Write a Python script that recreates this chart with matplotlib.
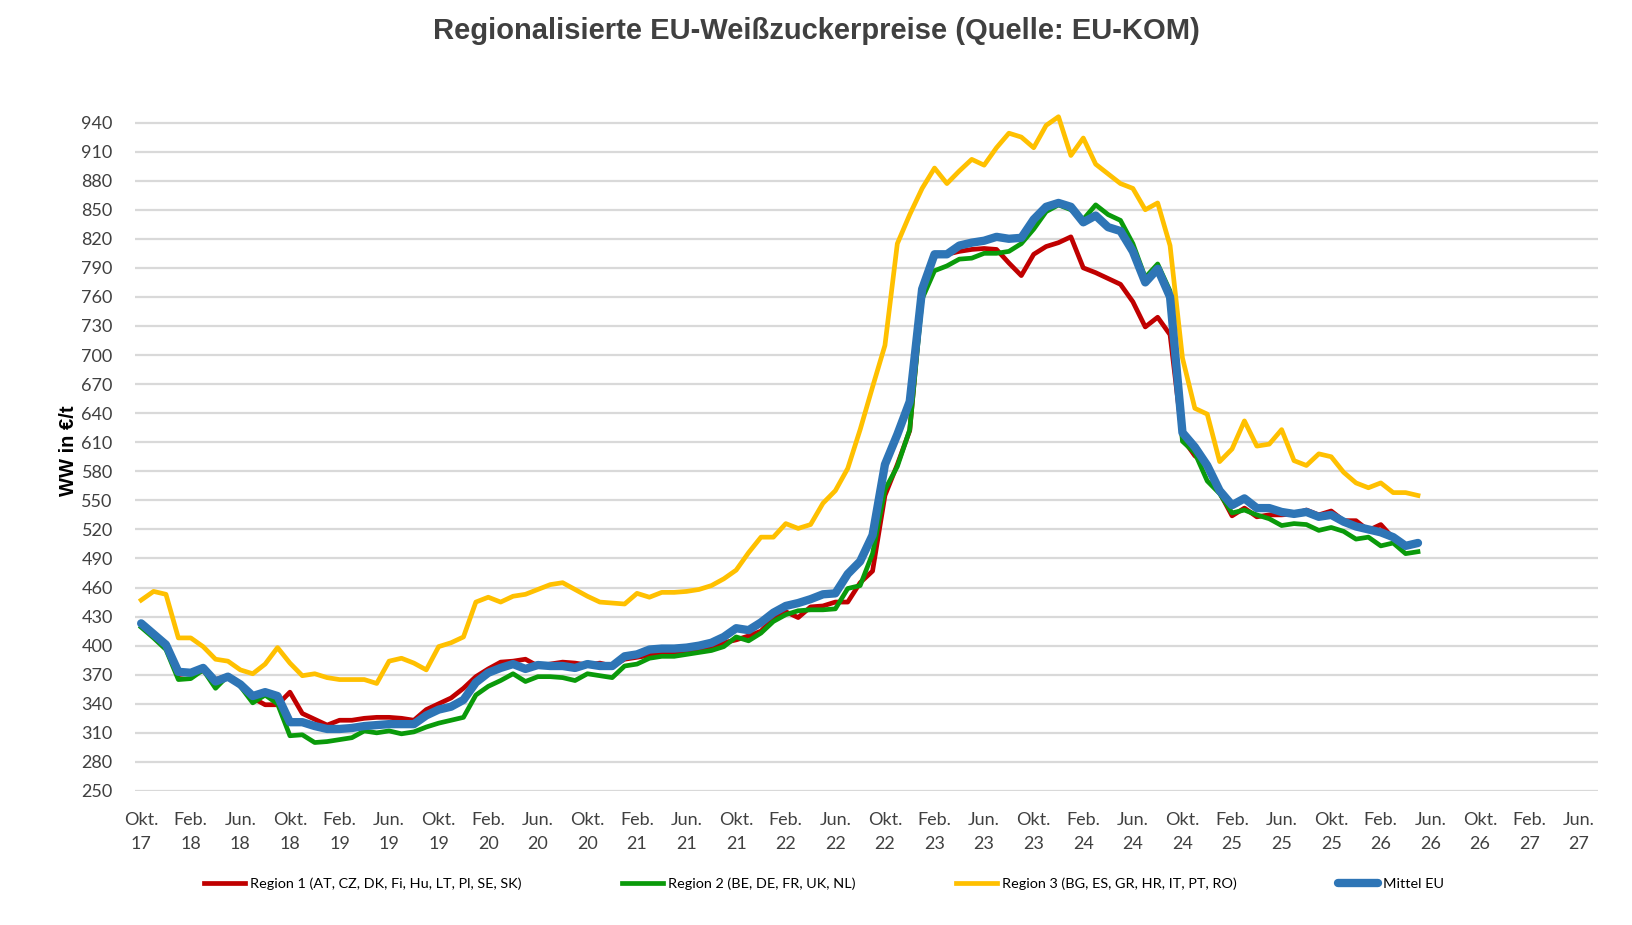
"""
Regionalised EU white sugar prices (source: EU-KOM), monthly Oct 2017 - May 2026.
"""

import numpy as np
import matplotlib
matplotlib.use('Agg')
import matplotlib.pyplot as plt

# monthly prices in EUR/t, starting Okt. 2017
region1 = [422, 411, 400, 370, 372, 374, 365, 369, 361, 346, 339, 339,
           352, 330, 324, 318, 323, 323, 325, 326, 326, 325, 323, 334,
           340, 346, 356, 368, 376, 383, 384, 386, 379, 381, 383, 382,
           380, 382, 379, 386, 388, 390, 392, 393, 395, 396, 397, 403,
           406, 410, 415, 428, 435, 429, 440, 441, 445, 445, 465, 477,
           555, 587, 622, 762, 802, 804, 807, 809, 810, 809, 795, 782,
           804, 812, 816, 822, 790, 785, 779, 773, 755, 729, 739, 721,
           614, 596, 587, 558, 534, 542, 533, 535, 535, 536, 540, 535,
           539, 529, 529, 519, 525, 511, 503, 505]

region2 = [419, 408, 396, 365, 366, 375, 356, 369, 358, 341, 349, 340,
           307, 308, 300, 301, 303, 305, 312, 310, 312, 309, 311, 316,
           320, 323, 326, 349, 358, 364, 371, 363, 368, 368, 367, 364,
           371, 369, 367, 379, 381, 387, 389, 389, 391, 393, 395, 399,
           409, 405, 413, 425, 432, 436, 437, 437, 438, 459, 462, 495,
           561, 585, 623, 758, 787, 792, 799, 800, 805, 805, 807, 815,
           830, 848, 855, 850, 840, 855, 845, 839, 815, 780, 794, 766,
           611, 599, 570, 557, 537, 540, 535, 531, 524, 526, 525, 519,
           522, 518, 510, 512, 503, 506, 495, 497]

region3 = [447, 456, 453, 408, 408, 399, 386, 384, 375, 371, 381, 398,
           382, 369, 371, 367, 365, 365, 365, 361, 384, 387, 382, 375,
           399, 403, 409, 445, 450, 445, 451, 453, 458, 463, 465, 458,
           451, 445, 444, 443, 454, 450, 455, 455, 456, 458, 462, 469,
           478, 496, 512, 512, 526, 521, 525, 547, 560, 583, 623, 667,
           710, 815, 845, 872, 893, 877, 890, 902, 896, 914, 929, 925,
           914, 937, 946, 906, 924, 897, 887, 877, 872, 850, 857, 813,
           697, 645, 639, 590, 603, 632, 606, 608, 623, 591, 586, 598,
           595, 579, 568, 563, 568, 558, 558, 555]

mittel_eu = [423, 412, 401, 373, 372, 377, 363, 368, 360, 348, 352, 348,
             321, 321, 317, 314, 314, 315, 317, 318, 319, 319, 319, 328,
             334, 337, 344, 362, 372, 377, 381, 376, 380, 379, 379, 377,
             381, 379, 379, 389, 391, 396, 397, 397, 398, 400, 403, 409,
             418, 416, 424, 434, 441, 444, 448, 453, 454, 474, 487, 514,
             587, 618, 652, 768, 804, 804, 813, 816, 818, 822, 820, 821,
             840, 853, 857, 853, 837, 844, 832, 828, 807, 775, 789, 760,
             620, 605, 586, 560, 545, 552, 542, 542, 538, 536, 538, 533,
             535, 528, 523, 520, 517, 512, 503, 506]

tick_labels = ['Okt.\n17', 'Feb.\n18', 'Jun.\n18', 'Okt.\n18', 'Feb.\n19', 'Jun.\n19',
               'Okt.\n19', 'Feb.\n20', 'Jun.\n20', 'Okt.\n20', 'Feb.\n21', 'Jun.\n21',
               'Okt.\n21', 'Feb.\n22', 'Jun.\n22', 'Okt.\n22', 'Feb.\n23', 'Jun.\n23',
               'Okt.\n23', 'Feb.\n24', 'Jun.\n24', 'Okt.\n24', 'Feb.\n25', 'Jun.\n25',
               'Okt.\n25', 'Feb.\n26', 'Jun.\n26', 'Okt.\n26', 'Feb.\n27', 'Jun.\n27']

labels = ['Region 1 (AT, CZ, DK, Fi, Hu, LT, Pl, SE, SK)',
          'Region 2 (BE, DE, FR, UK, NL)',
          'Region 3 (BG, ES, GR, HR, IT, PT, RO)',
          'Mittel EU']

text_color = '#404040'
body_font = ['Lato', 'DejaVu Sans']

fig = plt.figure(figsize=(16.32, 9.25), dpi=100)
ax = fig.add_axes([0.0827, 0.1449, 0.8963, 0.7331])

months = np.arange(len(mittel_eu))
ax.plot(months, region1, color='#C00000', linewidth=3.4, label=labels[0],
        solid_joinstyle='round')
ax.plot(months, region2, color='#0A9A0A', linewidth=3.4, label=labels[1],
        solid_joinstyle='round')
ax.plot(months, region3, color='#FFC000', linewidth=3.4, label=labels[2],
        solid_joinstyle='round', clip_on=False)
ax.plot(months, mittel_eu, color='#2E75B6', linewidth=6.0, label=labels[3],
        solid_joinstyle='round', solid_capstyle='round')

ax.set_xlim(-0.5, 117.5)
ax.set_ylim(250, 950)
ax.set_yticks(np.arange(250, 941, 30))
ax.set_xticks(np.arange(0, 4 * len(tick_labels), 4))
ax.set_xticklabels(tick_labels)
for lab in ax.get_xticklabels():
    lab.set_linespacing(1.6)

ax.grid(axis='y', color='#D9D9D9', linewidth=1.6)
ax.set_axisbelow(True)
for side in ['top', 'right', 'left', 'bottom']:
    ax.spines[side].set_visible(False)
ax.tick_params(axis='both', length=0, labelsize=13, labelcolor=text_color)
ax.tick_params(axis='y', pad=16)
ax.tick_params(axis='x', pad=15)
for lab in ax.get_xticklabels() + ax.get_yticklabels():
    lab.set_family(body_font)

fig.text(0.5, 0.966, 'Regionalisierte EU-Weißzuckerpreise (Quelle: EU-KOM)',
         ha='center', va='center', fontsize=21, fontweight='bold',
         color=text_color, family=['Liberation Sans', 'DejaVu Sans'])
fig.text(0.042, 0.513, 'WW in €/t', rotation=90, ha='center', va='center',
         fontsize=14.5, fontweight='bold', color='black',
         family=['Liberation Sans', 'DejaVu Sans'])

fig.legend(loc='center', bbox_to_anchor=(0.505, 0.0443), ncol=4,
           frameon=False, handlelength=2.8, handletextpad=0.35,
           columnspacing=7.0, prop={'family': body_font, 'size': 10.4})

fig.savefig('out.png', dpi=100)
